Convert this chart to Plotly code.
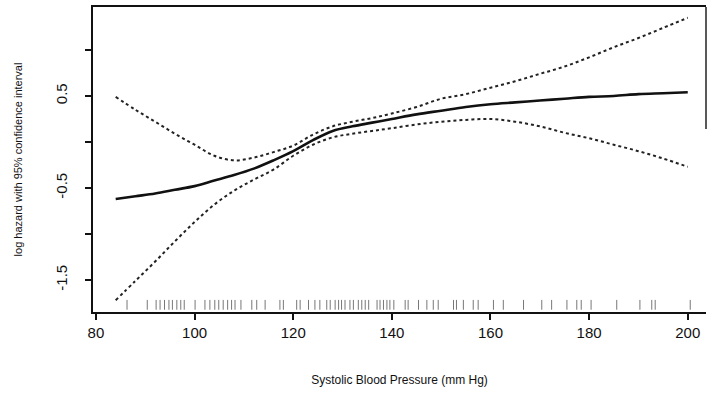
import plotly.graph_objects as go

# Systolic blood pressure grid (mm Hg)
sbp = [84, 88, 92, 96, 100, 104, 108, 112, 116, 120, 124, 128, 132, 136, 140,
       145, 150, 155, 160, 165, 170, 175, 180, 185, 190, 195, 200]
# log hazard estimate
log_hazard = [-0.62, -0.59, -0.56, -0.52, -0.48, -0.42, -0.36, -0.29, -0.20, -0.10,
              0.02, 0.12, 0.17, 0.21, 0.25, 0.30, 0.34, 0.38, 0.41, 0.43,
              0.45, 0.47, 0.49, 0.50, 0.52, 0.53, 0.54]
# 95% confidence limits
upper_ci = [0.49, 0.35, 0.22, 0.09, -0.03, -0.15, -0.20, -0.17, -0.11, -0.04,
            0.08, 0.17, 0.22, 0.26, 0.31, 0.38, 0.47, 0.52, 0.59, 0.66,
            0.74, 0.82, 0.92, 1.03, 1.13, 1.24, 1.35]
lower_ci = [-1.72, -1.51, -1.30, -1.08, -0.87, -0.68, -0.53, -0.41, -0.30, -0.15,
            -0.03, 0.05, 0.09, 0.12, 0.15, 0.19, 0.22, 0.24, 0.25, 0.22,
            0.17, 0.10, 0.04, -0.03, -0.10, -0.18, -0.27]
# observed SBP values (rug)
rug_sbp = [86.3, 90.4, 92.2, 93.0, 93.9, 94.8, 95.5, 96.4, 97.2, 97.9, 100.1, 102.1,
           103.1, 104.1, 104.9, 105.8, 106.7, 107.5, 108.2, 109.4, 111.6, 112.6,
           114.3, 117.3, 118.0, 120.7, 121.4, 123.1, 124.4, 125.4, 126.8, 127.5,
           128.5, 129.2, 129.8, 130.5, 131.5, 132.2, 133.2, 133.9, 134.6, 135.3,
           137.0, 137.6, 138.3, 139.0, 139.6, 140.4, 142.7, 143.3, 145.4, 147.1,
           148.4, 149.4, 152.5, 153.1, 154.5, 156.5, 157.5, 160.6, 162.6, 166.7,
           170.4, 172.4, 175.5, 177.5, 178.4, 180.4, 185.6, 190.3, 192.7, 193.4, 200.5]

y_tickvals = [-1.5, -1.0, -0.5, 0.0, 0.5, 1.0]
y_ticktext = ["-1.5", "", "-0.5", "", "0.5", ""]
x_tickvals = [80, 100, 120, 140, 160, 180, 200]

fig = go.Figure()
fig.add_trace(go.Scatter(x=sbp, y=upper_ci, mode="lines", line=dict(color="#222", width=2, dash="dot", shape="spline")))
fig.add_trace(go.Scatter(x=sbp, y=lower_ci, mode="lines", line=dict(color="#222", width=2, dash="dot", shape="spline")))
fig.add_trace(go.Scatter(x=sbp, y=log_hazard, mode="lines", line=dict(color="#111", width=2.6, shape="spline")))
fig.add_trace(go.Scatter(x=rug_sbp, y=[-1.77] * len(rug_sbp), mode="markers",
                         marker=dict(symbol="line-ns-open", size=7, color="#777",
                                     line=dict(color="#777", width=1))))

fig.update_layout(
    width=711, height=396,
    margin=dict(l=93, r=5, t=7, b=84),
    plot_bgcolor="white", paper_bgcolor="white",
    showlegend=False,
    font=dict(family="Liberation Sans, Arial, sans-serif", color="#111"),
    shapes=[dict(type="line", xref="paper", yref="paper", x0=1, x1=1, y0=0.6, y1=1,
                 line=dict(color="#222", width=1.5))],
)
fig.update_xaxes(range=[79.4, 203.7], tickvals=x_tickvals, showgrid=False, zeroline=False,
                 showline=True, linecolor="#111", linewidth=2, mirror=True,
                 ticks="outside", ticklen=6, tickwidth=2, tickcolor="#111",
                 tickfont=dict(size=15),
                 title=dict(text="Systolic Blood Pressure (mm Hg)", font=dict(size=12), standoff=36))
fig.update_yaxes(range=[-1.848, 1.467], tickvals=y_tickvals, ticktext=y_ticktext,
                 showgrid=False, zeroline=False, showline=True, linecolor="#111", linewidth=2,
                 ticks="outside", ticklen=6, tickwidth=1.5, tickcolor="#111",
                 tickangle=-90, tickfont=dict(size=15), ticklabelstandoff=12,
                 title=dict(text="log hazard with 95% confidence interval", font=dict(size=11), standoff=28))

fig.write_html("out.html")
